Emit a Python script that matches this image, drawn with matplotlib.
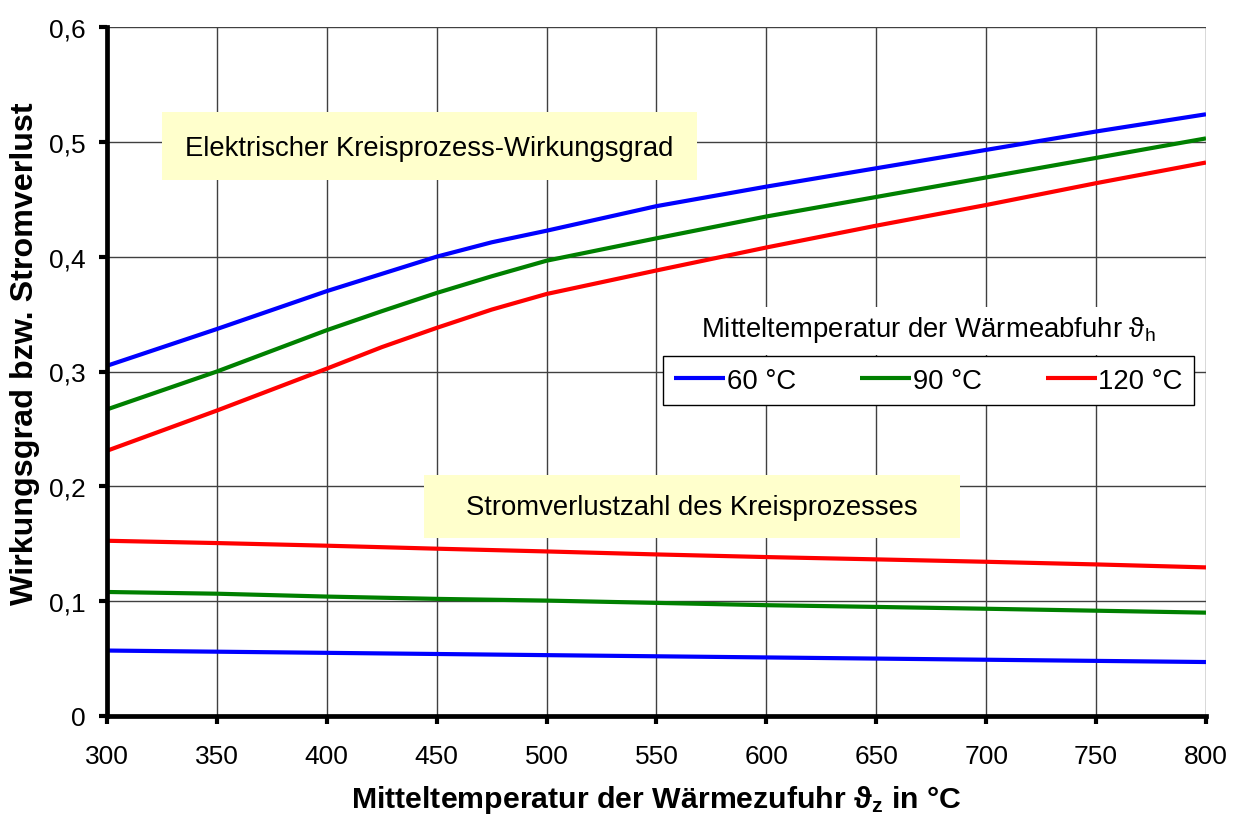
import matplotlib
matplotlib.use("Agg")
import matplotlib.pyplot as plt
from matplotlib.patches import Rectangle
from matplotlib.ticker import FuncFormatter

plt.rcParams['font.family'] = ['Liberation Sans', 'DejaVu Sans']
plt.rcParams['mathtext.fontset'] = 'custom'
plt.rcParams['mathtext.rm'] = 'Liberation Sans'
plt.rcParams['mathtext.it'] = 'Liberation Sans:italic'
plt.rcParams['mathtext.bf'] = 'Liberation Sans:bold'

# ---- data ----
temp_eta = [300, 350, 400, 425, 450, 475, 500, 550, 600, 650, 700, 750, 800]
eta_60 = [0.305, 0.337, 0.370, 0.385, 0.400, 0.4125, 0.4226, 0.444, 0.461, 0.477, 0.493, 0.509, 0.524]
eta_90 = [0.267, 0.300, 0.336, 0.3525, 0.3684, 0.3829, 0.3965, 0.416, 0.435, 0.452, 0.469, 0.486, 0.503]
eta_120 = [0.231, 0.266, 0.3025, 0.3212, 0.338, 0.3539, 0.3675, 0.388, 0.408, 0.427, 0.445, 0.464, 0.482]
temp_loss = [300, 350, 400, 450, 500, 550, 600, 650, 700, 750, 800]
loss_60 = [0.057, 0.056, 0.055, 0.054, 0.053, 0.052, 0.051, 0.050, 0.049, 0.048, 0.047]
loss_90 = [0.108, 0.1065, 0.104, 0.102, 0.1005, 0.0985, 0.0965, 0.095, 0.0934, 0.0917, 0.090]
loss_120 = [0.1526, 0.1506, 0.1483, 0.1457, 0.1433, 0.1407, 0.1384, 0.1364, 0.1343, 0.132, 0.1294]
series_labels = ['60 °C', '90 °C', '120 °C']
series_colors = ['#0000FF', '#008000', '#FF0000']
x_ticks = [300, 350, 400, 450, 500, 550, 600, 650, 700, 750, 800]
y_ticks = [0, 0.1, 0.2, 0.3, 0.4, 0.5, 0.6]

FS_TICK = 19
FS_TXT = 19.8
FS_XLAB = 21.8
FS_YLAB = 23.2

fig = plt.figure(figsize=(12.38, 8.2), dpi=100)
ax = fig.add_axes([107/1238, 1-717/820, 1099/1238, 689/820])

for eta, loss, lab, col in zip([eta_60, eta_90, eta_120], [loss_60, loss_90, loss_120],
                               series_labels, series_colors):
    ax.plot(temp_eta, eta, color=col, lw=3, label=lab, zorder=4, solid_capstyle='butt')
    ax.plot(temp_loss, loss, color=col, lw=3, zorder=4, solid_capstyle='butt')

ax.set_xlim(300, 800)
ax.set_ylim(0, 0.6)
ax.set_xticks(x_ticks)
ax.set_yticks(y_ticks)
ax.yaxis.set_major_formatter(FuncFormatter(lambda v, p: '0' if abs(v) < 1e-9 else f'{v:.1f}'.replace('.', ',')))
ax.grid(True, color='#404040', lw=1.0, zorder=0.5)
ax.set_axisbelow(True)

for s in ['top', 'right']:
    ax.spines[s].set_visible(False)
for s in ['left', 'bottom']:
    ax.spines[s].set_linewidth(3.4)
    ax.spines[s].set_zorder(5)
ax.tick_params(axis='both', direction='out', length=6, width=3, labelsize=FS_TICK, color='black')
ax.tick_params(axis='y', pad=9.5)
ax.tick_params(axis='x', pad=14)

ax.set_xlabel('Mitteltemperatur der Wärmezufuhr $\\mathbf{\\vartheta_z}$ in °C',
              fontsize=FS_XLAB, fontweight='bold', labelpad=11)
ax.set_ylabel('Wirkungsgrad bzw. Stromverlust', fontsize=FS_YLAB, fontweight='bold', labelpad=6)
ax.yaxis.label.set_y(0.527)

# yellow annotation boxes
box_col = '#FFFFCC'
ax.add_patch(Rectangle((0.050, 0.778), 0.487, 0.099, transform=ax.transAxes,
                       facecolor=box_col, edgecolor='none', zorder=2))
ax.text(0.2935, 0.824, 'Elektrischer Kreisprozess-Wirkungsgrad', transform=ax.transAxes,
        ha='center', va='center', fontsize=FS_TXT, zorder=3)
ax.add_patch(Rectangle((0.2884, 0.259), 0.4878, 0.091, transform=ax.transAxes,
                       facecolor=box_col, edgecolor='none', zorder=2))
ax.text(0.5323, 0.304, 'Stromverlustzahl des Kreisprozesses', transform=ax.transAxes,
        ha='center', va='center', fontsize=FS_TXT, zorder=3)

# legend title with white background
ax.add_patch(Rectangle((0.52, 0.524), 0.45, 0.07, transform=ax.transAxes,
                       facecolor='white', edgecolor='none', zorder=2))
ax.text(0.7475, 0.562, 'Mitteltemperatur der Wärmeabfuhr $\\mathrm{\\vartheta_h}$',
        transform=ax.transAxes, ha='center', va='center', fontsize=FS_TXT, zorder=3)

leg = ax.legend(loc='center', bbox_to_anchor=(0.7475, 0.4864), ncol=3, fontsize=FS_TXT,
                frameon=True, fancybox=False, edgecolor='black', framealpha=1,
                handlelength=1.85, handletextpad=0.05, columnspacing=2.35,
                borderpad=0.42, borderaxespad=0)
leg.get_frame().set_linewidth(1.0)
leg.set_zorder(6)

fig.savefig('out.png', dpi=100)
